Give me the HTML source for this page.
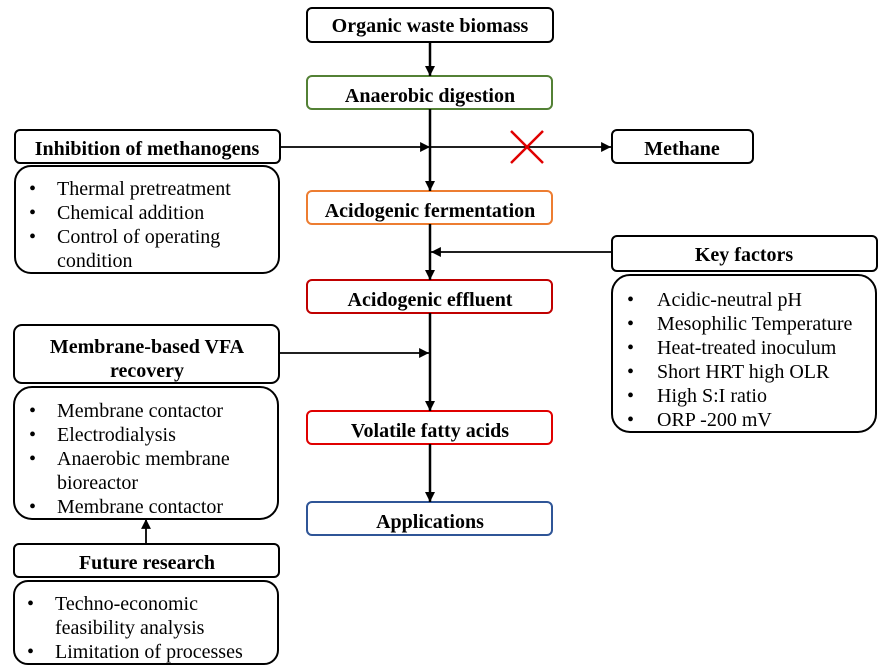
<!DOCTYPE html>
<html><head><meta charset="utf-8"><style>
html,body{margin:0;padding:0;background:#fff;}
svg{display:block;}
text{font-family:"Liberation Serif",serif;fill:#000;}
.t{font-weight:bold;font-size:20px;text-anchor:middle;}
.b{font-size:20px;}
</style></head><body>
<svg width="893" height="667" viewBox="0 0 893 667" xmlns="http://www.w3.org/2000/svg">
<defs>
<marker id="a" viewBox="0 0 10 10" refX="10" refY="5" markerWidth="4" markerHeight="4" orient="auto"><path d="M0,0L10,5L0,10z" fill="#000"/></marker>
<marker id="s" viewBox="0 0 10 10" refX="10" refY="5" markerWidth="5.5" markerHeight="5.5" orient="auto"><path d="M0,0L10,5L0,10z" fill="#000"/></marker>
</defs>
<g fill="none" stroke-width="2">
<rect x="307" y="8" width="246" height="34" rx="5" stroke="#000"/>
<rect x="307" y="76" width="245" height="33" rx="5" stroke="#538135"/>
<rect x="15" y="130" width="265" height="33" rx="5" stroke="#000"/>
<rect x="15" y="166" width="264" height="107" rx="16" stroke="#000"/>
<rect x="612" y="130" width="141" height="33" rx="5" stroke="#000"/>
<rect x="307" y="191" width="245" height="33" rx="5" stroke="#ED7D31"/>
<rect x="612" y="236" width="265" height="35" rx="5" stroke="#000"/>
<rect x="612" y="275" width="264" height="157" rx="18" stroke="#000"/>
<rect x="307" y="280" width="245" height="33" rx="5" stroke="#C00000"/>
<rect x="14" y="325" width="265" height="58" rx="8" stroke="#000"/>
<rect x="14" y="387" width="264" height="132" rx="18" stroke="#000"/>
<rect x="307" y="411" width="245" height="33" rx="5" stroke="#E00000"/>
<rect x="307" y="502" width="245" height="33" rx="5" stroke="#2F5597"/>
<rect x="14" y="544" width="265" height="33" rx="5" stroke="#000"/>
<rect x="14" y="581" width="264" height="83" rx="14" stroke="#000"/>
</g>
<g stroke="#000" stroke-width="2.5" fill="none">
<line x1="430" y1="42" x2="430" y2="76" marker-end="url(#a)"/>
<line x1="430" y1="109" x2="430" y2="191" marker-end="url(#a)"/>
<line x1="430" y1="224" x2="430" y2="280" marker-end="url(#a)"/>
<line x1="430" y1="313" x2="430" y2="411" marker-end="url(#a)"/>
<line x1="430" y1="444" x2="430" y2="502" marker-end="url(#a)"/>
</g>
<g stroke="#000" stroke-width="1.8" fill="none">
<line x1="280" y1="147" x2="430" y2="147" marker-end="url(#s)"/>
<line x1="430" y1="147" x2="611" y2="147" marker-end="url(#s)"/>
<line x1="612" y1="252" x2="431" y2="252" marker-end="url(#s)"/>
<line x1="279" y1="353" x2="429" y2="353" marker-end="url(#s)"/>
<line x1="146" y1="544" x2="146" y2="519" marker-end="url(#s)"/>
</g>
<g stroke="#E00000" stroke-width="2.5">
<line x1="511" y1="131" x2="543" y2="163"/>
<line x1="543" y1="131" x2="511" y2="163"/>
</g>
<text class="t" x="430" y="32">Organic waste biomass</text>
<text class="t" x="430" y="102">Anaerobic digestion</text>
<text class="t" x="147" y="155">Inhibition of methanogens</text>
<text class="t" x="682" y="155">Methane</text>
<text class="t" x="430" y="217">Acidogenic fermentation</text>
<text class="t" x="744" y="261">Key factors</text>
<text class="t" x="430" y="306">Acidogenic effluent</text>
<text class="t" x="147" y="353">Membrane-based VFA</text>
<text class="t" x="147" y="377">recovery</text>
<text class="t" x="430" y="437">Volatile fatty acids</text>
<text class="t" x="430" y="528">Applications</text>
<text class="t" x="147" y="569">Future research</text>
<g class="b">
<text x="29" y="195">•</text><text x="57" y="195">Thermal pretreatment</text>
<text x="29" y="219">•</text><text x="57" y="219">Chemical addition</text>
<text x="29" y="243">•</text><text x="57" y="243">Control of operating</text>
<text x="57" y="267">condition</text>

<text x="627" y="306">•</text><text x="657" y="306">Acidic-neutral pH</text>
<text x="627" y="330">•</text><text x="657" y="330">Mesophilic Temperature</text>
<text x="627" y="354">•</text><text x="657" y="354">Heat-treated inoculum</text>
<text x="627" y="378">•</text><text x="657" y="378">Short HRT high OLR</text>
<text x="627" y="402">•</text><text x="657" y="402">High S:I ratio</text>
<text x="627" y="426">•</text><text x="657" y="426">ORP -200 mV</text>

<text x="29" y="417">•</text><text x="57" y="417">Membrane contactor</text>
<text x="29" y="441">•</text><text x="57" y="441">Electrodialysis</text>
<text x="29" y="465">•</text><text x="57" y="465">Anaerobic membrane</text>
<text x="57" y="489">bioreactor</text>
<text x="29" y="513">•</text><text x="57" y="513">Membrane contactor</text>

<text x="27" y="610">•</text><text x="55" y="610">Techno-economic</text>
<text x="55" y="634">feasibility analysis</text>
<text x="27" y="658">•</text><text x="55" y="658">Limitation of processes</text>
</g>
</svg>
</body></html>
